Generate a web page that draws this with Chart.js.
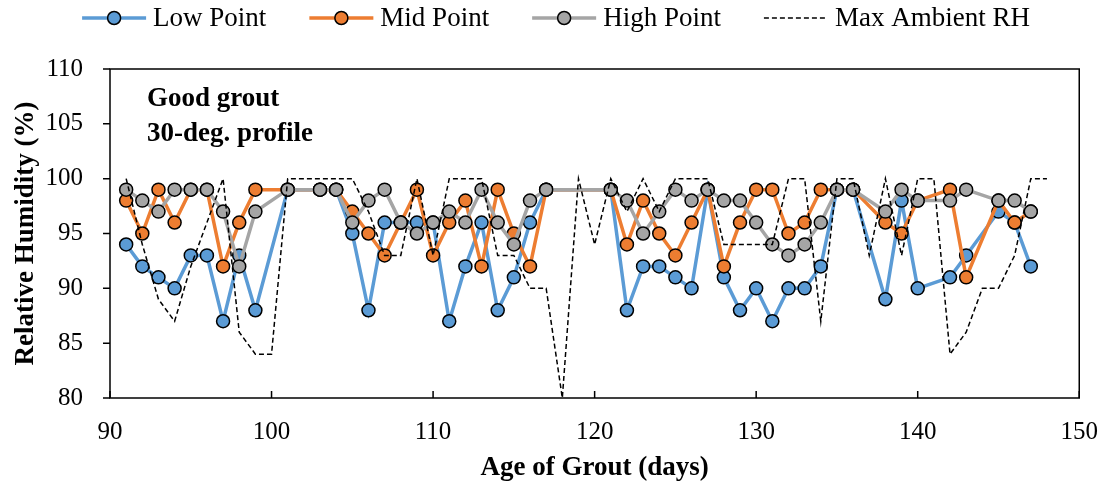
<!DOCTYPE html>
<html>
<head>
<meta charset="utf-8">
<title>Relative Humidity - Good grout</title>
<script src="https://cdn.jsdelivr.net/npm/chart.js@4/dist/chart.umd.min.js"></script>
<style>
  html, body { margin: 0; padding: 0; background: #fff; }
  #rhChart { display: block; }
</style>
</head>
<body>
<canvas id="rhChart" width="1117" height="488"></canvas>
<script>
// grout age (days) and sensor readings, null = no reading that day
const days = [91,92,93,94,95,96,97,98,99,100,101,102,103,104,105,106,107,108,109,110,
  111,112,113,114,115,116,117,118,119,120,121,122,123,124,125,126,127,128,129,130,
  131,132,133,134,135,136,137,138,139,140,141,142,143,144,145,146,147,148];

const lowPoint = [94,92,91,90,93,93,87,93,88,null,99,null,99,99,95,88,96,96,96,96,
  87,92,96,88,91,96,99,null,null,null,99,88,92,92,91,90,99,91,88,90,
  87,90,90,92,99,99,null,89,98,90,null,91,93,null,97,96,92,null];

const midPoint = [98,95,99,96,99,99,92,96,99,null,99,null,99,99,97,95,93,96,99,93,
  96,98,92,99,95,92,99,null,null,null,99,94,98,95,93,96,99,92,96,99,
  99,95,96,99,99,99,null,96,95,98,null,99,91,null,98,96,97,null];

const highPoint = [99,98,97,99,99,99,97,92,97,null,99,null,99,99,96,98,99,96,95,96,
  97,96,99,96,94,98,99,null,null,null,99,98,95,97,99,98,99,98,98,96,
  94,93,94,96,99,99,null,97,99,98,null,98,99,null,98,98,97,null];

const maxAmbientRH = [100,94,89,87,92,96,100,86,84,84,100,100,100,100,100,97,93,93,100,93,
  100,100,100,93,93,90,90,80,100,94,100,97,100,97,100,100,100,94,94,94,
  94,100,100,87,100,100,93,100,93,100,100,84,86,90,90,93,100,100];

const xTicks = [90, 100, 110, 120, 130, 140, 150];
const yTicks = [80, 85, 90, 95, 100, 105, 110];

const serif = "'Liberation Serif', 'Times New Roman', serif";

const toXY = arr => days.map((d, i) => ({ x: d, y: arr[i] }));

function markerSeries(label, values, color, order) {
  return {
    label, data: toXY(values), order,
    borderColor: color, backgroundColor: color,
    borderWidth: 3.5, tension: 0, spanGaps: true,
    pointRadius: 6.5, pointBorderColor: '#000', pointBorderWidth: 1.5,
    pointBackgroundColor: color
  };
}

// box round the plot area plus small tick marks (y outward, x inward)
const frame = {
  id: 'frame',
  afterDatasetsDraw(chart) {
    const { ctx, chartArea: a, scales } = chart;
    ctx.save();
    ctx.strokeStyle = '#000';
    ctx.lineWidth = 1.5;
    ctx.strokeRect(a.left, a.top, a.right - a.left, a.bottom - a.top);
    ctx.beginPath();
    yTicks.forEach(v => {
      const y = scales.y.getPixelForValue(v);
      ctx.moveTo(a.left - 7, y); ctx.lineTo(a.left, y);
    });
    xTicks.forEach(v => {
      const x = scales.x.getPixelForValue(v);
      ctx.moveTo(x, a.bottom); ctx.lineTo(x, a.bottom - 7);
    });
    ctx.stroke();

    // label in the top-left corner
    ctx.fillStyle = '#000';
    ctx.font = 'bold 27px ' + serif;
    ctx.textBaseline = 'alphabetic';
    ctx.fillText('Good grout', a.left + 37, 106);
    ctx.fillText('30-deg. profile', a.left + 37, 141);
    ctx.restore();
  }
};

// legend row: line + marker swatches, dashed swatch for the ambient series
const lineLegend = {
  id: 'lineLegend',
  afterDraw(chart) {
    const { ctx } = chart;
    const sets = chart.data.datasets;
    const swatch = 64, gap = 7, itemGap = 43, y = 18;
    ctx.save();
    ctx.font = '27px ' + serif;
    const widths = sets.map(s => swatch + gap + ctx.measureText(s.label).width);
    const total = widths.reduce((a, b) => a + b, 0) + itemGap * (sets.length - 1);
    let x = 556 - total / 2;
    sets.forEach((s, i) => {
      ctx.beginPath();
      ctx.strokeStyle = s.borderColor;
      ctx.lineWidth = s.borderWidth;
      ctx.setLineDash(s.borderDash || []);
      ctx.moveTo(x, y); ctx.lineTo(x + swatch, y);
      ctx.stroke();
      ctx.setLineDash([]);
      if (s.pointRadius > 0) {
        ctx.beginPath();
        ctx.arc(x + swatch / 2, y, s.pointRadius, 0, Math.PI * 2);
        ctx.fillStyle = s.pointBackgroundColor;
        ctx.fill();
        ctx.lineWidth = s.pointBorderWidth;
        ctx.strokeStyle = '#000';
        ctx.stroke();
      }
      ctx.fillStyle = '#000';
      ctx.textBaseline = 'middle';
      ctx.fillText(s.label, x + swatch + gap, y + 1);
      x += widths[i] + itemGap;
    });
    ctx.restore();
  }
};

new Chart(document.getElementById('rhChart'), {
  type: 'line',
  data: {
    datasets: [
      markerSeries('Low Point', lowPoint, '#5B9BD5', 4),
      markerSeries('Mid Point', midPoint, '#ED7D31', 3),
      markerSeries('High Point', highPoint, '#A5A5A5', 2),
      {
        label: 'Max Ambient RH', data: toXY(maxAmbientRH), order: 1,
        borderColor: '#000', borderWidth: 1.5, borderDash: [5, 3],
        pointRadius: 0, tension: 0, spanGaps: true
      }
    ]
  },
  options: {
    responsive: false,
    animation: false,
    layout: { padding: { top: 69, right: 36, bottom: 0, left: 0 } },
    plugins: { legend: { display: false }, tooltip: { enabled: false } },
    scales: {
      x: {
        type: 'linear', min: 90, max: 150,
        afterBuildTicks: s => { s.ticks = xTicks.map(v => ({ value: v })); },
        afterFit: s => { s.height = 90; },
        grid: { display: false, drawTicks: false },
        border: { display: false },
        ticks: { color: '#000', padding: 19, font: { family: serif, size: 25 } },
        title: {
          display: true, text: 'Age of Grout (days)', color: '#000',
          padding: { top: 0, bottom: 4 },
          font: { family: serif, size: 27, weight: 'bold' }
        }
      },
      y: {
        min: 80, max: 110,
        afterBuildTicks: s => { s.ticks = yTicks.map(v => ({ value: v })); },
        afterFit: s => { s.width = 110; },
        grid: { display: false, drawTicks: false },
        border: { display: false },
        ticks: { color: '#000', padding: 27, font: { family: serif, size: 25 } },
        title: {
          display: true, text: 'Relative Humidity (%)', color: '#000',
          padding: { top: 10, bottom: 0 },
          font: { family: serif, size: 27, weight: 'bold' }
        }
      }
    }
  },
  plugins: [frame, lineLegend]
});
</script>
</body>
</html>
